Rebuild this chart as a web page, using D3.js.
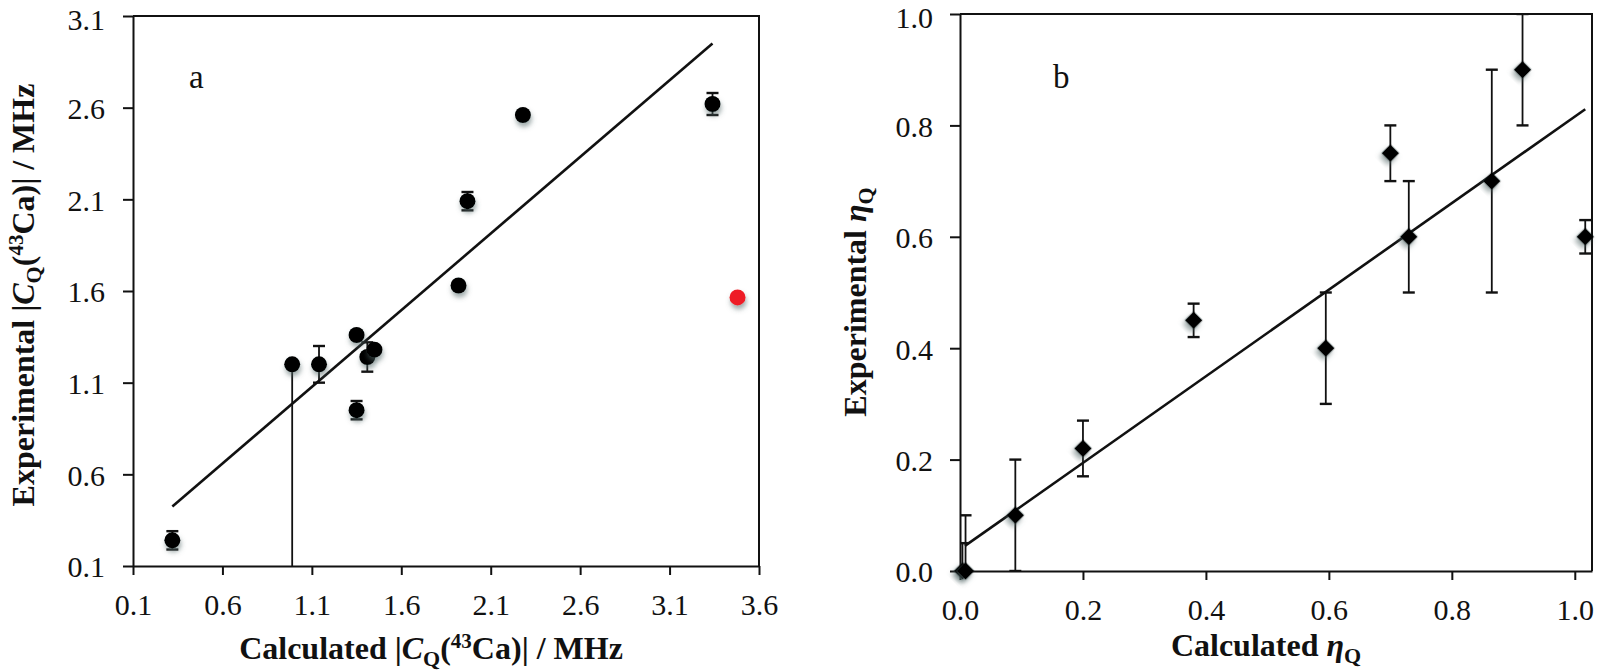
<!DOCTYPE html>
<html>
<head>
<meta charset="utf-8">
<script src="https://cdn.jsdelivr.net/npm/d3@7.9.0/dist/d3.min.js"></script>
<style>
  body { margin: 0; background: #fff; }
  svg { display: block; font-family: 'Liberation Serif', 'Times New Roman', serif; }
</style>
</head>
<body>
<script>
// Panel a: |CQ(43Ca)| in MHz
const calcCq  = [0.32, 0.99, 1.14, 1.35, 1.41, 1.45, 1.35, 1.92, 1.97, 2.28, 3.34];
const expCq   = [0.24, 1.20, 1.20, 1.36, 1.24, 1.28, 0.95, 1.63, 2.09, 2.56, 2.62];
const errCqLo = [0.05, 1.20, 0.10, 0, 0.08, 0, 0.05, 0, 0.05, 0, 0.06];
const errCqHi = [0.05, 0, 0.10, 0, 0.08, 0, 0.05, 0, 0.05, 0, 0.06];
const outlierCq = [3.48, 1.565];          // red point (calc, exp)
const fitCqX = [0.32, 3.34];
const fitCqY = [0.425, 2.95];
const ticksCqX = [0.1, 0.6, 1.1, 1.6, 2.1, 2.6, 3.1, 3.6];
const ticksCqY = [0.1, 0.6, 1.1, 1.6, 2.1, 2.6, 3.1];

// Panel b: asymmetry parameter etaQ
const calcEta = [0.004, 0.009, 0.09, 0.20, 0.38, 0.595, 0.70, 0.73, 0.865, 0.915, 1.017];
const expEta  = [0.0, 0.0, 0.10, 0.22, 0.45, 0.40, 0.75, 0.60, 0.70, 0.90, 0.60];
const errEta  = [0.05, 0.10, 0.10, 0.05, 0.03, 0.10, 0.05, 0.10, 0.20, 0.10, 0.03];
const fitEtaX = [0.008, 1.017];
const fitEtaY = [0.045, 0.829];
const ticksEtaX = [0.0, 0.2, 0.4, 0.6, 0.8, 1.0];
const ticksEtaY = [0.0, 0.2, 0.4, 0.6, 0.8, 1.0];

const W = 1603, H = 672;
const fmt = d3.format('.1f');

const svg = d3.select('body').append('svg')
  .attr('width', W).attr('height', H);

const defs = svg.append('defs');
defs.append('filter')
  .attr('id', 'shadow')
  .attr('x', '-60%').attr('y', '-60%').attr('width', '220%').attr('height', '220%')
  .append('feDropShadow')
  .attr('dx', 1).attr('dy', 4).attr('stdDeviation', 2.5)
  .attr('flood-color', '#4f6464').attr('flood-opacity', 0.55);

function drawPanel(p) {
  const x = d3.scaleLinear().domain(p.xDomain).range([p.left, p.right]);
  const y = d3.scaleLinear().domain(p.yDomain).range([p.bottom, p.top]);
  const g = svg.append('g');

  defs.append('clipPath').attr('id', 'clip-' + p.id)
    .append('rect')
    .attr('x', p.left).attr('y', p.top)
    .attr('width', p.right - p.left).attr('height', p.bottom - p.top);

  // frame: top and right edges
  g.append('path')
    .attr('d', `M${p.left},${p.top}H${p.right}V${p.bottom}`)
    .attr('fill', 'none').attr('stroke', '#111').attr('stroke-width', 2);

  // axes
  const xAxis = g.append('g')
    .attr('transform', `translate(0,${p.bottom})`)
    .call(d3.axisBottom(x).tickValues(p.xTicks).tickFormat(fmt).tickSize(9).tickSizeOuter(0));
  xAxis.selectAll('text').attr('y', 49).attr('dy', 0);

  const yAxis = g.append('g')
    .attr('transform', `translate(${p.left},0)`)
    .call(d3.axisLeft(y).tickValues(p.yTicks).tickFormat(fmt).tickSize(10).tickSizeOuter(0));
  // top label sits against the image edge, nudge it down a touch
  const topTick = p.yTicks[p.yTicks.length - 1];
  yAxis.selectAll('text').attr('x', -p.labelGap)
    .attr('dy', d => d === topTick ? '0.46em' : '0.36em');

  [xAxis, yAxis].forEach(a => {
    a.select('.domain').attr('stroke', '#111').attr('stroke-width', 2);
    a.selectAll('.tick line').attr('stroke', '#111').attr('stroke-width', 2);
    a.selectAll('text')
      .attr('fill', '#111')
      .style('font-family', "'Liberation Serif', serif")
      .style('font-size', '30px');
  });

  // trend line
  g.append('line')
    .attr('x1', x(p.fitX[0])).attr('y1', y(p.fitY[0]))
    .attr('x2', x(p.fitX[1])).attr('y2', y(p.fitY[1]))
    .attr('stroke', '#111').attr('stroke-width', 2.6);

  // error bars
  const eb = g.append('g').attr('clip-path', `url(#clip-${p.id})`)
    .attr('stroke', '#111').attr('stroke-width', 1.8);
  p.xs.forEach((xv, i) => {
    const lo = p.errLo[i], hi = p.errHi[i];
    if (!lo && !hi) return;
    const cx = x(xv);
    const y0 = y(p.ys[i] - lo), y1 = y(p.ys[i] + hi);
    eb.append('line').attr('x1', cx).attr('x2', cx).attr('y1', y0).attr('y2', y1);
    if (lo) eb.append('line').attr('x1', cx - 6).attr('x2', cx + 6).attr('y1', y0).attr('y2', y0)
      .attr('stroke-width', 2.4);
    if (hi) eb.append('line').attr('x1', cx - 6).attr('x2', cx + 6).attr('y1', y1).attr('y2', y1)
      .attr('stroke-width', 2.4);
  });

  // markers
  const sym = d3.symbol().type(p.symbol).size(p.symbolSize);
  g.append('g').selectAll('path')
    .data(p.xs.map((xv, i) => [xv, p.ys[i]]))
    .join('path')
    .attr('d', sym)
    .attr('transform', d => `translate(${x(d[0])},${y(d[1])})` + (p.symbol === d3.symbolSquare ? ' rotate(45)' : ''))
    .attr('fill', '#000')
    .attr('filter', 'url(#shadow)');

  if (p.outlier) {
    g.append('circle')
      .attr('cx', x(p.outlier[0])).attr('cy', y(p.outlier[1])).attr('r', 8)
      .attr('fill', '#ee1c25').attr('filter', 'url(#shadow)');
  }

  // panel letter
  g.append('text')
    .attr('x', p.letterPos[0]).attr('y', p.letterPos[1])
    .style('font-size', '33px').attr('fill', '#111')
    .text(p.id);

  return { x, y, g };
}

drawPanel({
  id: 'a',
  left: 133, right: 759, top: 16, bottom: 566,
  xDomain: [0.1, 3.6], yDomain: [0.1, 3.1],
  xTicks: ticksCqX, yTicks: ticksCqY, labelGap: 28,
  xs: calcCq, ys: expCq, errLo: errCqLo, errHi: errCqHi,
  fitX: fitCqX, fitY: fitCqY,
  symbol: d3.symbolCircle, symbolSize: Math.PI * 8 * 8,
  outlier: outlierCq,
  letterPos: [189, 88]
});

drawPanel({
  id: 'b',
  left: 960, right: 1592, top: 14, bottom: 571,
  xDomain: [0, 1.028], yDomain: [0, 1],
  xTicks: ticksEtaX, yTicks: ticksEtaY, labelGap: 27,
  xs: calcEta, ys: expEta, errLo: errEta, errHi: errEta,
  fitX: fitEtaX, fitY: fitEtaY,
  symbol: d3.symbolSquare, symbolSize: 12.5 * 12.5,
  outlier: null,
  letterPos: [1053, 88]
});

// axis titles
function cqTitle(sel, prefix) {
  sel.append('tspan').text(prefix + ' |');
  sel.append('tspan').attr('font-style', 'italic').text('C');
  sel.append('tspan').attr('font-size', '22px').attr('dy', 7).text('Q');
  sel.append('tspan').attr('dy', -7).text('(');
  sel.append('tspan').attr('font-size', '21px').attr('dy', -11).text('43');
  sel.append('tspan').attr('dy', 11).text('Ca)| / MHz');
}
function etaTitle(sel, prefix) {
  sel.append('tspan').text(prefix + ' ');
  sel.append('tspan').attr('font-style', 'italic').text('η');
  sel.append('tspan').attr('font-size', '22px').attr('dy', 7).text('Q');
}

const titleStyle = s => s.attr('font-weight', 'bold').style('font-size', '32px')
  .attr('fill', '#111').attr('text-anchor', 'middle');

svg.append('text').call(titleStyle)
  .attr('x', 431).attr('y', 659).call(cqTitle, 'Calculated');
svg.append('text').call(titleStyle)
  .attr('transform', 'translate(34,295) rotate(-90)').call(cqTitle, 'Experimental');

svg.append('text').call(titleStyle)
  .attr('x', 1266).attr('y', 656).call(etaTitle, 'Calculated');
svg.append('text').call(titleStyle)
  .attr('transform', 'translate(866,302) rotate(-90)').call(etaTitle, 'Experimental');
</script>
</body>
</html>
